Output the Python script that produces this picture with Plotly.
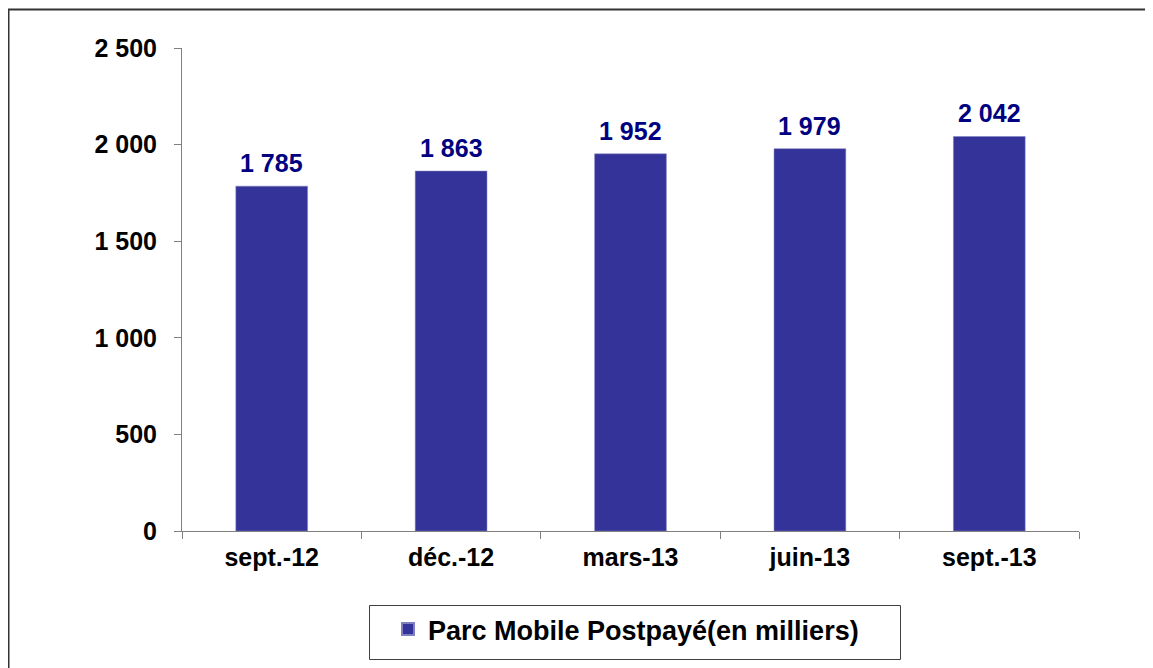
import plotly.graph_objects as go

categories = ["sept.-12", "déc.-12", "mars-13", "juin-13", "sept.-13"]
values = [1785, 1863, 1952, 1979, 2042]
series_name = "Parc Mobile Postpayé(en milliers)"
y_ticks = [0, 500, 1000, 1500, 2000, 2500]

FONT = "Liberation Sans, Arial, sans-serif"

fig = go.Figure()
fig.add_trace(go.Bar(
    x=categories, y=values, name=series_name,
    marker=dict(color="#333399", line=dict(color="#8080c0", width=0.5)),
    cliponaxis=False,
))

# data labels, placed above each bar from the same arrays
for c, v in zip(categories, values):
    fig.add_annotation(
        x=c, y=v, xref="x", yref="y", text=f"{v:,}".replace(",", " "),
        showarrow=False, yanchor="bottom", yshift=7,
        font=dict(family=FONT, size=25, color="#000080", weight="bold"),
    )

# page body has an 8px margin, so the figure is sized to fit the window
W, H = 1145, 660
L, R, T, B = 174, 74, 40, 137
pw, ph = W - L - R, H - T - B

def px_x(x):
    return (x - L) / pw

def px_y(y):
    return (H - B - y) / ph

fig.update_layout(
    width=W, height=H,
    margin=dict(l=L, r=R, t=T, b=B),
    paper_bgcolor="white", plot_bgcolor="white",
    separators=", ",
    bargap=0.6,
    font=dict(family=FONT, color="black"),
    showlegend=True,
    legend=dict(
        orientation="h", x=px_x(380), xanchor="left",
        y=px_y(597), yanchor="top",
        borderwidth=0, bgcolor="rgba(0,0,0,0)",
        font=dict(family=FONT, size=27, color="black", weight="bold"),
        itemsizing="constant",
    ),
    xaxis=dict(
        showline=True, linecolor="#808080", linewidth=1,
        ticks="outside", ticklen=7, tickcolor="#808080", tickson="boundaries",
        showgrid=False,
        tickfont=dict(family=FONT, size=25, color="black", weight="bold"),
        ticklabelstandoff=4,
    ),
    yaxis=dict(
        range=[0, 2500], tickvals=y_ticks, tickformat=",d",
        showline=True, linecolor="#808080", linewidth=1,
        ticks="outside", ticklen=7, tickcolor="#808080",
        showgrid=False, zeroline=False,
        tickfont=dict(family=FONT, size=25, color="black", weight="bold"),
        ticklabelstandoff=12,
    ),
)

# legend frame
fig.add_shape(type="rect", xref="paper", yref="paper",
              x0=px_x(361.5), x1=px_x(892.5), y0=px_y(651.5), y1=px_y(597.5),
              line=dict(color="#404040", width=1), layer="below")

# outer chart border (left/top visible, right/bottom beyond frame)
fig.add_shape(type="rect", xref="paper", yref="paper",
              x0=px_x(0.5), x1=px_x(W + 5),
              y0=px_y(H + 5), y1=px_y(1.5),
              line=dict(color="#333333", width=2), layer="below")

fig.write_html("out.html")
